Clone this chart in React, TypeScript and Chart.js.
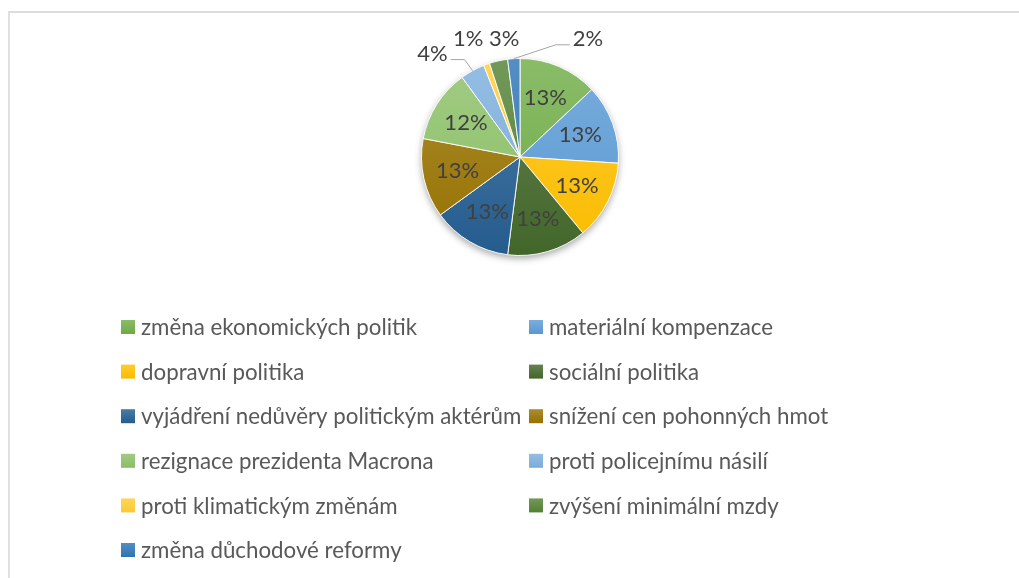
import React, { useEffect, useRef } from "react";
import { Chart, registerables } from "chart.js";

Chart.register(...registerables);

const categories = [
  "změna ekonomických politik",
  "materiální kompenzace",
  "dopravní politika",
  "sociální politika",
  "vyjádření nedůvěry politickým aktérům",
  "snížení cen pohonných hmot",
  "rezignace prezidenta Macrona",
  "proti policejnímu násilí",
  "proti klimatickým změnám",
  "zvýšení minimální mzdy",
  "změna důchodové reformy",
];

const values = [13, 13, 13, 13, 13, 13, 12, 4, 1, 3, 2];

const colors = [
  "#70AD47",
  "#5B9BD5",
  "#FFC000",
  "#43682B",
  "#255E91",
  "#997300",
  "#8CC168",
  "#7CAFDD",
  "#FFCD33",
  "#548235",
  "#2E75B6",
];

// Manual placement for the small outside labels (in pie-radius units from centre); null = inside
const outsideLabelOffsets: ([number, number] | null)[] = [
  null, null, null, null, null, null, null,
  [-0.89, -1.05],
  [-0.525, -1.2],
  [-0.16, -1.2],
  [0.69, -1.2],
];

const FONT = "Lato, 'Open Sans', sans-serif";

function mix(hex: string, target: number, amt: number) {
  const n = parseInt(hex.slice(1), 16);
  const r = (n >> 16) & 255, g = (n >> 8) & 255, b = n & 255;
  const f = (c: number) => Math.round(c + (target - c) * amt);
  return `rgb(${f(r)},${f(g)},${f(b)})`;
}

function grad(ctx: CanvasRenderingContext2D, hex: string, y0: number, y1: number) {
  const g = ctx.createLinearGradient(0, y0, 0, y1);
  g.addColorStop(0, mix(hex, 255, 0.18));
  g.addColorStop(1, mix(hex, 0, 0.02));
  return g;
}

const shadowPlugin = {
  id: "pieShadow",
  beforeDatasetsDraw(chart: any) {
    const arc = chart.getDatasetMeta(0).data[0];
    if (!arc) return;
    const { x, y, outerRadius } = arc.getProps(["x", "y", "outerRadius"], true);
    const ctx = chart.ctx;
    ctx.save();
    ctx.shadowColor = "rgba(0,0,0,0.35)";
    ctx.shadowBlur = 7;
    ctx.shadowOffsetY = 3;
    ctx.beginPath();
    ctx.arc(x, y, outerRadius, 0, Math.PI * 2);
    ctx.fillStyle = "#ffffff";
    ctx.fill();
    ctx.restore();
  },
};

const labelPlugin = {
  id: "pieLabels",
  afterDatasetsDraw(chart: any) {
    const ctx = chart.ctx;
    const meta = chart.getDatasetMeta(0);
    const data = chart.data.datasets[0].data as number[];
    const total = data.reduce((a, b) => a + b, 0);
    ctx.save();
    ctx.font = `22px ${FONT}`;
    ctx.fillStyle = "#404040";
    ctx.textAlign = "center";
    ctx.textBaseline = "middle";
    meta.data.forEach((el: any, i: number) => {
      const { x, y, startAngle, endAngle, outerRadius } = el.getProps(
        ["x", "y", "startAngle", "endAngle", "outerRadius"],
        true
      );
      const mid = (startAngle + endAngle) / 2;
      const txt = `${Math.round((data[i] / total) * 100)}%`;
      const off = outsideLabelOffsets[i];
      if (!off) {
        const r = outerRadius * 0.65;
        ctx.fillText(txt, x + Math.cos(mid) * r, y + Math.sin(mid) * r);
      } else {
        const lx = x + off[0] * outerRadius;
        const ly = y + off[1] * outerRadius;
        const ex = x + Math.cos(mid) * outerRadius;
        const ey = y + Math.sin(mid) * outerRadius;
        const dist = Math.hypot(lx - ex, ly - ey);
        if (dist > 38) {
          const w = ctx.measureText(txt).width;
          const side = ex > lx ? 1 : -1;
          const sx = lx + side * (w / 2 + 3);
          const sy = ly + 6;
          ctx.strokeStyle = "#a6a6a6";
          ctx.lineWidth = 1;
          ctx.beginPath();
          ctx.moveTo(sx, sy);
          ctx.lineTo(sx + side * 14, sy);
          ctx.lineTo(ex, ey);
          ctx.stroke();
        }
        ctx.fillText(txt, lx, ly);
      }
    });
    ctx.restore();
  },
};

const LEGEND_COLS = [121, 529];
const LEGEND_TOP = 327;
const LEGEND_ROW = 44.6;
const LEGEND_BOX = 14;

const legendPlugin = {
  id: "gridLegend",
  afterDraw(chart: any) {
    const ctx = chart.ctx;
    const labels = chart.data.labels as string[];
    ctx.save();
    ctx.font = `22.3px ${FONT}`;
    ctx.textBaseline = "middle";
    ctx.textAlign = "left";
    labels.forEach((lab, i) => {
      const col = i % 2;
      const row = Math.floor(i / 2);
      const bx = LEGEND_COLS[col];
      const cy = LEGEND_TOP + row * LEGEND_ROW;
      ctx.fillStyle = grad(ctx, colors[i], cy - LEGEND_BOX / 2, cy + LEGEND_BOX / 2);
      ctx.fillRect(bx, cy - LEGEND_BOX / 2, LEGEND_BOX, LEGEND_BOX);
      ctx.fillStyle = "#595959";
      ctx.fillText(lab, bx + LEGEND_BOX + 6, cy + 1);
    });
    ctx.restore();
  },
};

export default function App() {
  const ref = useRef<HTMLCanvasElement | null>(null);
  useEffect(() => {
    if (!ref.current) return;
    const chart = new Chart(ref.current, {
      type: "pie",
      data: {
        labels: categories,
        datasets: [
          {
            data: values,
            backgroundColor: (c: any) => {
              const area = c.chart.chartArea;
              const hex = colors[c.dataIndex];
              if (!area) return hex;
              return grad(c.chart.ctx, hex, area.top, area.bottom);
            },
            borderColor: "rgba(255,255,255,0.9)",
            borderWidth: 1,
          },
        ],
      },
      options: {
        responsive: false,
        animation: false,
        devicePixelRatio: 1,
        layout: { padding: { top: 58, bottom: 322, left: 21, right: 0 } },
        plugins: {
          legend: { display: false },
          tooltip: { enabled: false },
        },
      },
      plugins: [shadowPlugin, labelPlugin, legendPlugin],
    });
    return () => chart.destroy();
  }, []);

  return (
    <div style={{ position: "fixed", left: 0, top: 0, width: 1019, height: 578, background: "#fff", overflow: "hidden" }}>
      <div
        style={{
          position: "absolute",
          left: 8,
          top: 11,
          width: 1100,
          height: 700,
          borderTop: "2px solid #dcdcdc",
          borderLeft: "2px solid #e0e0e0",
        }}
      />
      <canvas ref={ref} width={1019} height={578} style={{ position: "absolute", left: 0, top: 0 }} />
    </div>
  );
}
